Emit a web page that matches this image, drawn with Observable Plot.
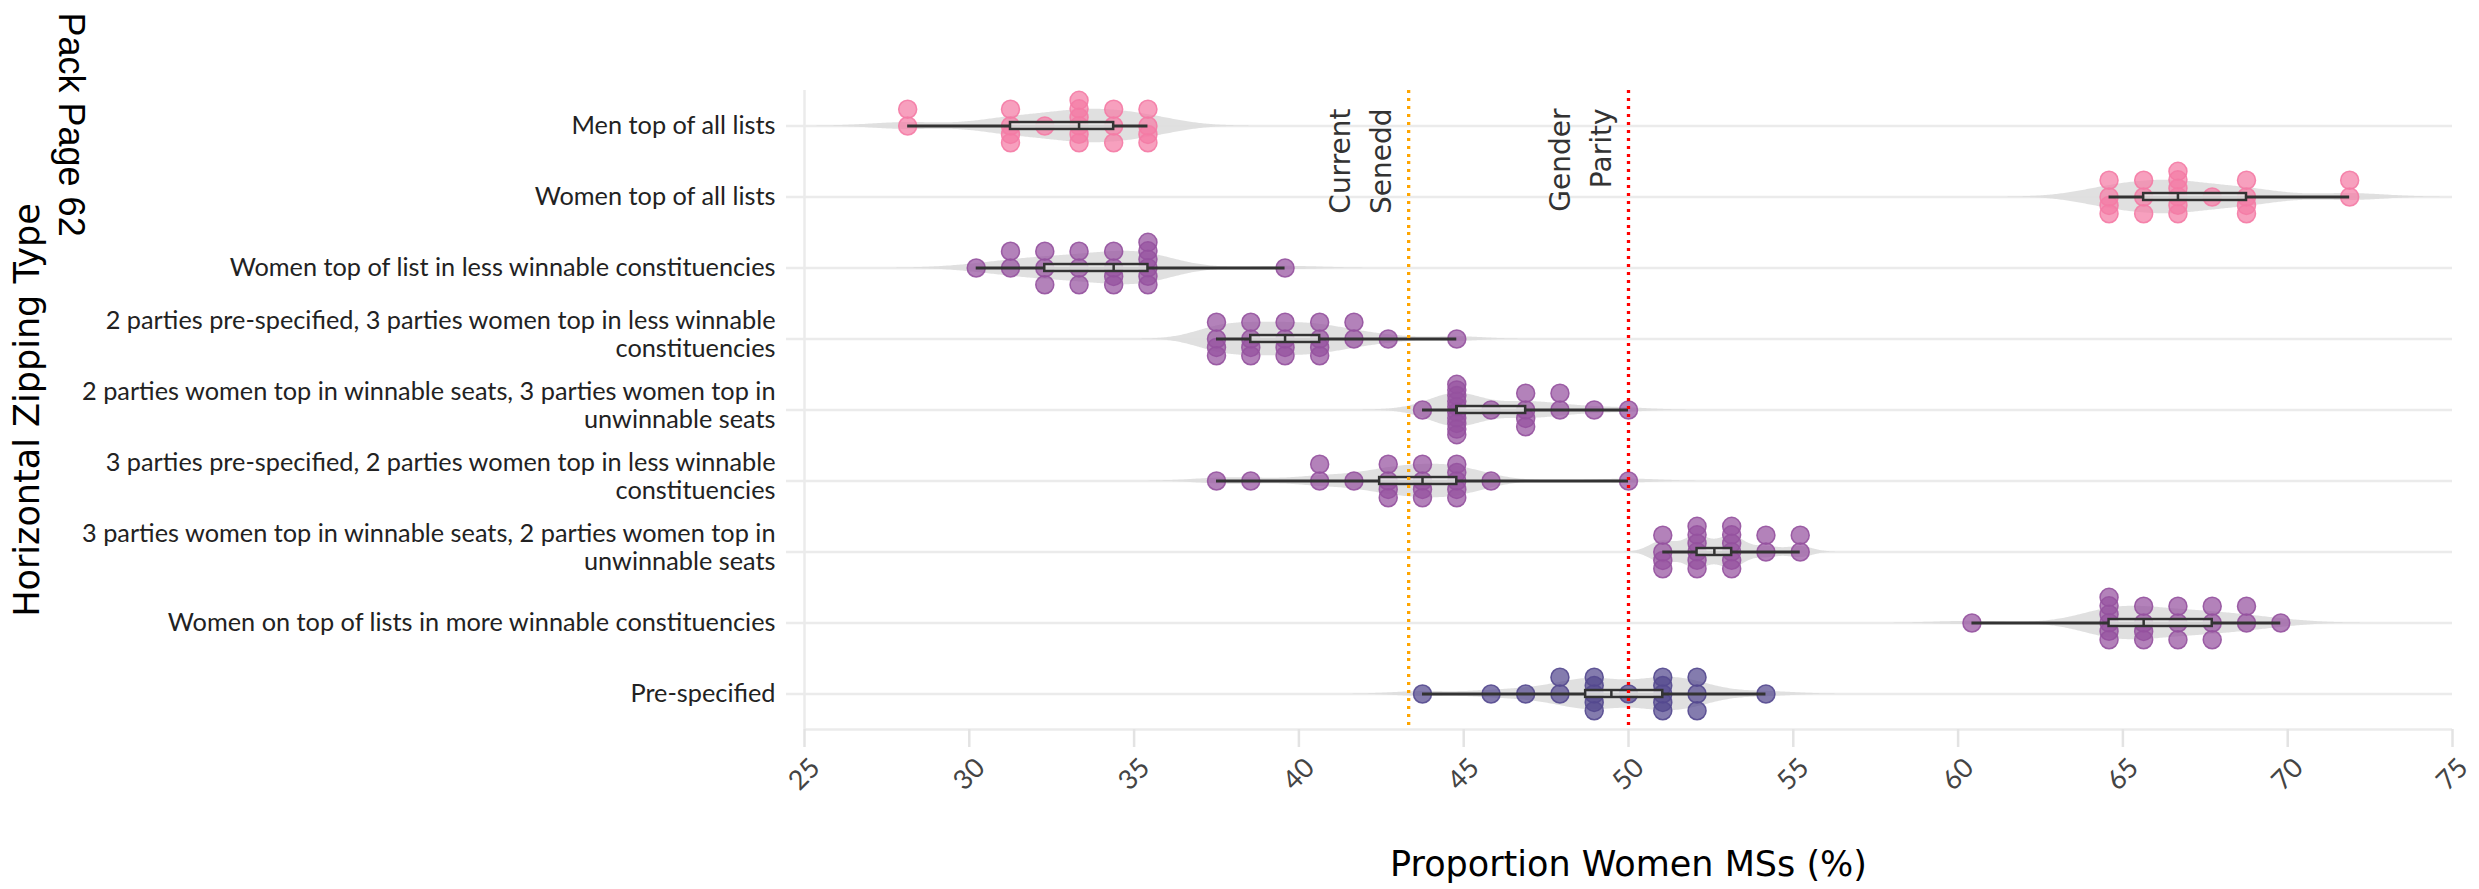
<!DOCTYPE html>
<html>
<head>
<meta charset="utf-8">
<script src="https://cdn.jsdelivr.net/npm/d3@7"></script>
<script src="https://cdn.jsdelivr.net/npm/@observablehq/plot@0.6"></script>
<style>
  body { margin: 0; background: #ffffff; }
  svg { display: block; }
</style>
</head>
<body>
<div id="chart"></div>
<script>
// ---------- data ----------
const categories = [
  "Men top of all lists",
  "Women top of all lists",
  "Women top of list in less winnable constituencies",
  "2 parties pre-specified, 3 parties women top in less winnable constituencies",
  "2 parties women top in winnable seats, 3 parties women top in unwinnable seats",
  "3 parties pre-specified, 2 parties women top in less winnable constituencies",
  "3 parties women top in winnable seats, 2 parties women top in unwinnable seats",
  "Women on top of lists in more winnable constituencies",
  "Pre-specified"
];
const categoryLabels = [
  "Men top of all lists",
  "Women top of all lists",
  "Women top of list in less winnable constituencies",
  "2 parties pre-specified, 3 parties women top in less winnable\nconstituencies",
  "2 parties women top in winnable seats, 3 parties women top in\nunwinnable seats",
  "3 parties pre-specified, 2 parties women top in less winnable\nconstituencies",
  "3 parties women top in winnable seats, 2 parties women top in\nunwinnable seats",
  "Women on top of lists in more winnable constituencies",
  "Pre-specified"
];
const categoryColors = [
  "#f47ba5", "#f47ba5", "#95529f", "#95529f", "#95529f",
  "#95529f", "#95529f", "#95529f", "#54498f"
];

const menTopOfAllLists = [28.13, 28.13, 31.25, 31.25, 31.25, 31.25, 32.29, 33.33, 33.33, 33.33, 33.33, 33.33, 33.33, 34.38, 34.38, 34.38, 35.42, 35.42, 35.42, 35.42];
const womenTopOfAllLists = [64.58, 64.58, 64.58, 64.58, 65.63, 65.63, 65.63, 66.67, 66.67, 66.67, 66.67, 66.67, 66.67, 67.71, 68.75, 68.75, 68.75, 68.75, 71.88, 71.88];
const womenTopLessWinnable = [30.21, 31.25, 31.25, 32.29, 32.29, 32.29, 33.33, 33.33, 33.33, 34.38, 34.38, 34.38, 34.38, 35.42, 35.42, 35.42, 35.42, 35.42, 35.42, 39.58];
const twoPreThreeLess = [37.5, 37.5, 37.5, 37.5, 38.54, 38.54, 38.54, 38.54, 39.58, 39.58, 39.58, 39.58, 40.63, 40.63, 40.63, 40.63, 41.67, 41.67, 42.71, 44.79];
const twoWinThreeUnwin = [43.75, 44.79, 44.79, 44.79, 44.79, 44.79, 44.79, 44.79, 44.79, 44.79, 44.79, 45.83, 46.88, 46.88, 46.88, 46.88, 47.92, 47.92, 48.96, 50];
const threePreTwoLess = [37.5, 38.54, 40.63, 40.63, 41.67, 42.71, 42.71, 42.71, 42.71, 43.75, 43.75, 43.75, 43.75, 44.79, 44.79, 44.79, 44.79, 44.79, 45.83, 50];
const threeWinTwoUnwin = [51.04, 51.04, 51.04, 51.04, 52.08, 52.08, 52.08, 52.08, 52.08, 52.08, 53.13, 53.13, 53.13, 53.13, 53.13, 53.13, 54.17, 54.17, 55.21, 55.21];
const womenMoreWinnable = [60.42, 64.58, 64.58, 64.58, 64.58, 64.58, 64.58, 65.63, 65.63, 65.63, 65.63, 66.67, 66.67, 66.67, 67.71, 67.71, 67.71, 68.75, 68.75, 69.79];
const preSpecified = [43.75, 45.83, 46.88, 47.92, 47.92, 48.96, 48.96, 48.96, 48.96, 48.96, 50, 51.04, 51.04, 51.04, 51.04, 51.04, 52.08, 52.08, 52.08, 54.17];

const seriesValues = [menTopOfAllLists, womenTopOfAllLists, womenTopLessWinnable, twoPreThreeLess,
  twoWinThreeUnwin, threePreTwoLess, threeWinTwoUnwin, womenMoreWinnable, preSpecified];

const xTicks = [25, 30, 35, 40, 45, 50, 55, 60, 65, 70, 75];
const currentSenedd = 43.33;
const genderParity = 50;
const refLabels = ["Current\nSenedd", "Gender\nParity"];
const xTitle = "Proportion Women MSs (%)";
const yTitle = "Horizontal Zipping Type";
const pageTag = "Pack Page 62";

// ---------- derived layout (stacking, box stats, violins) ----------
function stackOffsets(n) {
  if (n === 1) return [0];
  if (n === 2) return [17, 0];
  if (n === 4) return [17, 0, -8.5, -17];
  const top = n >= 6 ? 26 : 17;
  const bottom = n >= 8 ? -25 : -17;
  return d3.range(n).map(i => top + (bottom - top) * i / (n - 1));
}
const rows = categories.map((c, i) => ({cat: c, label: categoryLabels[i], values: seriesValues[i], color: categoryColors[i]}));

const points = rows.flatMap(r =>
  d3.rollups(r.values, v => v.length, d => d).flatMap(([v, n]) =>
    stackOffsets(n).map(o => ({cat: r.cat, x: v, y: o, color: r.color}))));

const boxes = rows.map(r => {
  const s = [...r.values].sort(d3.ascending);
  return {cat: r.cat, q1: d3.quantile(s, 0.25), med: d3.quantile(s, 0.5), q3: d3.quantile(s, 0.75),
          lo: s[0], hi: s[s.length - 1]};
});

function nrd0(v) {
  const sd = d3.deviation(v);
  const iqr = d3.quantile(v, 0.75) - d3.quantile(v, 0.25);
  let lo = Math.min(sd, iqr / 1.34);
  if (!(lo > 0)) lo = sd || 1;
  return 0.9 * lo * Math.pow(v.length, -0.2);
}
const violins = rows.flatMap(r => {
  const s = [...r.values].sort(d3.ascending);
  const bw = nrd0(s);
  const a = s[0] - 3 * bw, b = s[s.length - 1] + 3 * bw;
  const N = 300;
  const pts = d3.range(N + 1).map(i => {
    const x = a + (b - a) * i / N;
    const d = d3.mean(s, v => Math.exp(-0.5 * ((x - v) / bw) ** 2)) / (bw * Math.sqrt(2 * Math.PI));
    return {cat: r.cat, x, d};
  });
  const m = d3.max(pts, p => p.d);
  pts.forEach(p => p.w = p.d / m * 17);
  return pts;
});

const singleRows = rows.filter(r => !r.label.includes("\n"));
const multiRows = rows.filter(r => r.label.includes("\n"));
const lastCat = categories[categories.length - 1];

const gridColor = "#ebebeb";
const labelFont = "Lato, 'Noto Sans', sans-serif";
const titleFont = "'DejaVu Sans', 'Open Sans', sans-serif";

const chart = Plot.plot({
  width: 2479,
  height: 889,
  marginLeft: 804,
  marginRight: 27,
  marginTop: 86,
  marginBottom: 156,
  style: {background: "#ffffff", fontFamily: titleFont},
  x: {domain: [25, 75]},
  y: {domain: [-36, 36], axis: null},
  fy: {domain: categories, padding: 0, label: null},
  marks: [
    // grid & axis lines
    Plot.ruleY([0], {stroke: gridColor, strokeWidth: 2.5}),
    Plot.ruleX([25], {stroke: gridColor, strokeWidth: 2.5}),
    Plot.ruleY([{cat: lastCat}], {fy: "cat", y: () => -36, stroke: gridColor, strokeWidth: 2.5}),
    // violins
    Plot.areaY(violins, {x: "x", y1: d => -d.w, y2: d => d.w, fy: "cat", fill: "#dedede", fillOpacity: 0.95, curve: "linear"}),
    // points
    Plot.dot(points, {x: "x", y: "y", fy: "cat", r: 9, fill: d => d.color, fillOpacity: 0.72,
      stroke: d => d.color, strokeOpacity: 0.9, strokeWidth: 1.5}),
    // whiskers
    Plot.ruleY(boxes, {fy: "cat", y: () => 0, x1: "lo", x2: "hi", stroke: "#333333", strokeWidth: 3}),
    // boxes
    Plot.rect(boxes, {fy: "cat", x1: "q1", x2: "q3", y1: () => -3.5, y2: () => 3.5,
      fill: "#ffffff", fillOpacity: 0.78, stroke: "#333333", strokeWidth: 2.5}),
    Plot.ruleX(boxes, {fy: "cat", x: "med", y1: () => -3.5, y2: () => 3.5, stroke: "#333333", strokeWidth: 2.5}),
    // reference lines
    Plot.ruleX([currentSenedd], {stroke: "#ffa500", strokeWidth: 3.3, strokeDasharray: "3,5"}),
    Plot.ruleX([genderParity], {stroke: "#ff0000", strokeWidth: 3.3, strokeDasharray: "3,5"}),
    Plot.text([{cat: categories[0], x: currentSenedd, t: refLabels[0]}, {cat: categories[0], x: genderParity, t: refLabels[1]}],
      {x: "x", fy: "cat", text: "t", frameAnchor: "top", dy: 18, dx: -18, rotate: -90,
       textAnchor: "end", lineAnchor: "bottom", lineHeight: 1.45, fontSize: 28, fill: "#333333", fontFamily: titleFont}),
    // axes
    Plot.axisX(xTicks, {tickSize: 18, tickRotate: -45, textAnchor: "middle", lineAnchor: "middle", tickPadding: 27,
      stroke: "#e3e3e3", strokeWidth: 2.5, fill: "#444444", fontSize: 27, fontFamily: labelFont, label: null}),
    Plot.axisFy({anchor: "left", tickSize: 18, stroke: gridColor, strokeWidth: 2.5, fill: "none", label: null}),
    // category labels
    Plot.text(singleRows, {fy: "cat", text: "label", frameAnchor: "left", dx: -29, textAnchor: "end",
      lineAnchor: "middle", fill: "#222222", fontSize: 25.3, fontFamily: labelFont}),
    Plot.text(multiRows, {fy: "cat", text: "label", frameAnchor: "left", dx: -29, dy: -5, textAnchor: "end",
      lineAnchor: "middle", lineHeight: 1.12, fill: "#222222", fontSize: 25.3, fontFamily: labelFont}),
    // titles
    Plot.text([{cat: lastCat, t: xTitle}], {fy: "cat", text: "t", frameAnchor: "bottom", dy: 135, lineAnchor: "middle",
      textAnchor: "middle", fontSize: 35, fill: "#000000", fontFamily: titleFont}),
    Plot.text([{cat: categories[4], t: yTitle}], {fy: "cat", text: "t", frameAnchor: "left", dx: -777, rotate: -90,
      textAnchor: "middle", lineAnchor: "middle", fontSize: 35, fill: "#000000", fontFamily: titleFont}),
    Plot.text([{cat: categories[0], t: pageTag}], {fy: "cat", text: "t", frameAnchor: "top-left", dx: -734, dy: -78, rotate: 90,
      textAnchor: "start", lineAnchor: "middle", fontSize: 36, fill: "#000000", fontFamily: "'Liberation Sans', Arial, sans-serif"})
  ]
});
document.getElementById("chart").appendChild(chart);
</script>
</body>
</html>
